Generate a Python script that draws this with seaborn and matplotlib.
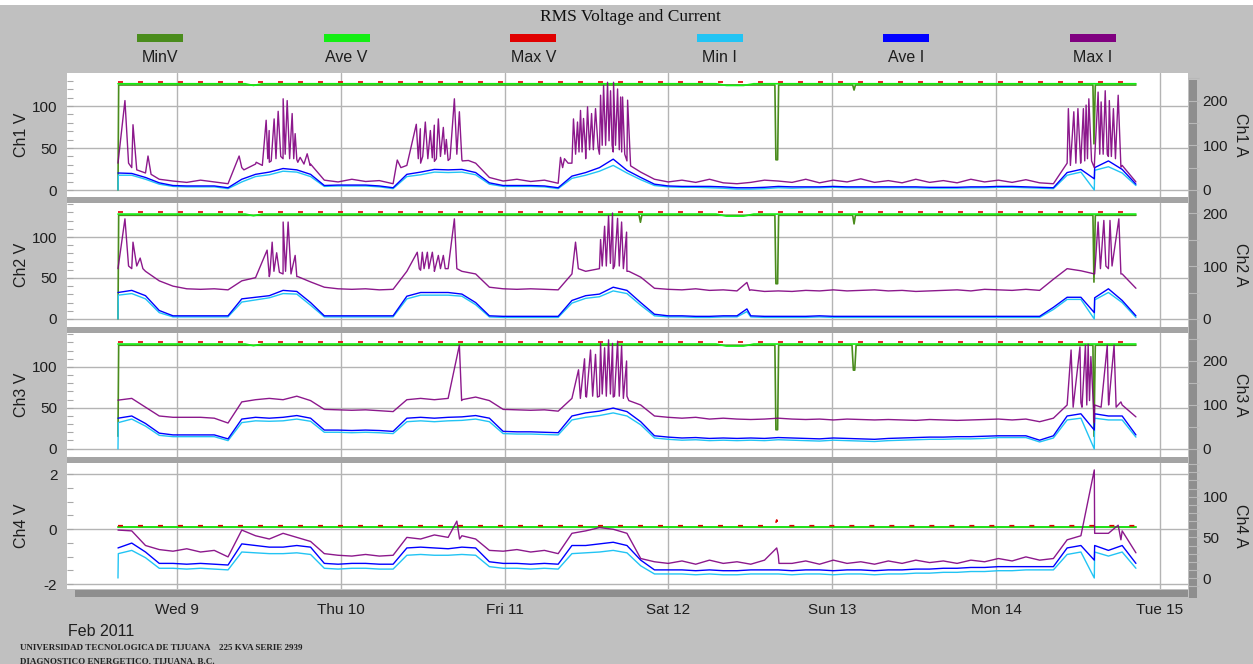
import numpy as np
import pandas as pd
import matplotlib
matplotlib.use('Agg')
import matplotlib.pyplot as plt
import matplotlib.dates as mdates
from matplotlib.patches import Rectangle
from matplotlib.ticker import MultipleLocator, FuncFormatter
import seaborn as sns

sns.set_style('white')
plt.rcParams['font.family'] = ['Liberation Sans', 'DejaVu Sans']
plt.rcParams['axes.unicode_minus'] = False

# --- dados ---
# grade de medição (~2 h) e origem dos pontos extra (horas desde 8 fev 00:00)
t0 = pd.Timestamp('2011-02-08 00:00')
grid = pd.date_range('2011-02-08 15:21', '2011-02-14 20:30', periods=75)

# canal 1 (corrente em A)
ch1_min_i = [0, 33, 24, 13, 8, 7, 7, 7, 3, 18, 30, 34, 42, 40, 30,
             8, 9, 9, 9, 7, 3, 30, 34, 40, 39, 40, 34, 13, 8, 8,
             8, 7, 3, 26, 33, 42, 55, 38, 23, 10, 7, 6, 6, 5, 4,
             2, 2, 3, 5, 4, 5, 5, 6, 5, 5, 5, 5, 5, 5, 4,
             4, 4, 5, 5, 6, 6, 5, 4, 3, 33, 40, 44, 52, 38, 10]
ch1_ave_i = [38, 37, 28, 16, 10, 9, 9, 9, 5, 24, 35, 40, 48, 45, 35,
             10, 11, 11, 11, 9, 5, 35, 40, 46, 45, 46, 39, 16, 10, 10,
             10, 9, 5, 31, 39, 50, 69, 44, 28, 13, 9, 8, 8, 8, 7,
             5, 5, 6, 8, 7, 7, 7, 8, 7, 7, 7, 7, 7, 7, 6,
             6, 6, 7, 7, 8, 8, 7, 6, 5, 39, 46, 50, 65, 46, 13]
ch1_max_i = [60, 50, 38, 24, 20, 17, 22, 18, 14, 50, 58, 62, 70, 68, 58,
             22, 18, 24, 19, 21, 14, 55, 60, 64, 66, 68, 60, 28, 20, 24,
             19, 22, 15, 60, 70, 80, 85, 65, 40, 24, 18, 22, 17, 24, 16,
             14, 17, 22, 20, 17, 24, 16, 22, 18, 25, 17, 21, 16, 24, 17,
             21, 16, 24, 18, 22, 17, 23, 16, 14, 60, 65, 70, 75, 55, 18]
ch1_min_i_add_h = [15.4, 158.4]
ch1_min_i_add = [33, 0]
ch1_ave_i_add_h = [158.4]
ch1_ave_i_add = [25]
ch1_max_i_pk_h = [16.37, 16.9, 17.55, 18.1, 19.75, 20.2,
                  33.1, 33.8, 35.6, 36.5, 37.06, 37.3, 37.5, 37.8, 38.23, 38.5, 38.82, 39.2,
                  39.55, 39.85, 40.14, 40.5, 40.87, 41.1, 41.31, 41.7, 42.04, 42.6, 43.07, 43.5,
                  56.27, 56.8, 59.06, 59.35, 59.65, 60.0, 60.38, 60.75, 61.12, 61.4, 61.7, 62.0,
                  62.29, 62.6, 63.02, 63.25, 63.46, 64.0, 64.64, 65.0, 65.37, 65.8, 66.69,
                  80.19, 80.5, 80.77, 81.3, 82.09, 82.4, 82.68, 82.9, 83.12, 83.35, 83.56, 83.85,
                  84.15, 84.45, 84.74, 85.0, 85.32, 85.7, 86.06, 86.3, 86.5, 86.8, 87.08, 87.3,
                  87.52, 87.75, 87.96, 88.25, 88.55, 88.8, 89.0, 89.15, 89.28, 89.6, 90.02, 90.46,
                  154.6, 154.9, 155.4, 155.7, 156.0, 156.4, 156.8, 157.0, 157.2, 157.4, 157.6,
                  158.0, 158.4, 158.96, 159.2, 159.4, 159.7, 160.0, 160.3, 160.6, 160.9, 161.2,
                  161.5, 161.9, 162.3]
ch1_max_i_pk = [200, 60, 146, 45, 76, 35,
                76, 45, 62, 55, 156, 70, 133, 65, 159, 70, 176, 75,
                204, 80, 200, 70, 171, 70, 126, 62, 73, 58, 81, 55,
                67, 50, 147, 70, 137, 75, 152, 70, 133, 72, 145, 70,
                159, 75, 140, 80, 113, 70, 204, 80, 175, 65, 66,
                73, 50, 70, 60, 159, 80, 152, 85, 178, 85, 160, 90,
                186, 90, 171, 90, 182, 95, 212, 100, 234, 100, 241, 110,
                222, 100, 241, 100, 226, 90, 208, 85, 208, 80, 201, 54,
                182, 55, 175, 60, 182, 60, 182, 65, 190, 70, 204,
                65, 50, 219, 80, 197, 80, 222, 80, 200, 75, 182,
                70, 212, 51]
# canal 1 (tensão em V)
ch1_min_v_h = [15.35, 15.45, 111.6, 111.75, 112.0, 112.15, 123.0, 123.2, 123.4,
               158.2, 158.35, 158.55, 164.5]
ch1_min_v = [0, 125, 125, 36, 36, 125, 125, 119, 125, 125, 55, 125, 125]
ch1_ave_v_h = [15.35, 34.0, 35.2, 36.5, 103.0, 104.5, 107.0, 108.5, 164.5]
ch1_ave_v = [126.5, 126.5, 124.5, 126.5, 126.5, 124.5, 124.5, 126.5, 126.5]
ch1_max_v_h = [15.35, 164.5]
ch1_max_v = [128.5, 128.5]

# canal 2
ch2_min_i = [0, 48, 38, 12, 4, 4, 4, 4, 4, 32, 36, 40, 48, 47, 26,
             4, 4, 4, 4, 4, 4, 38, 45, 45, 45, 43, 27, 4, 3, 3,
             3, 3, 3, 30, 39, 42, 53, 48, 26, 6, 4, 4, 3, 3, 4,
             4, 4, 3, 3, 3, 3, 4, 3, 3, 3, 3, 3, 3, 3, 3,
             3, 3, 3, 3, 3, 3, 3, 3, 18, 37, 37, 36, 50, 31, 3]
ch2_ave_i = [50, 54, 44, 16, 6, 6, 6, 6, 6, 38, 41, 44, 54, 52, 31,
             6, 6, 6, 6, 6, 6, 43, 50, 50, 50, 47, 31, 6, 5, 5,
             5, 5, 5, 35, 44, 47, 60, 54, 31, 9, 6, 6, 5, 5, 6,
             6, 6, 5, 5, 5, 5, 6, 5, 5, 5, 5, 5, 5, 5, 5,
             5, 5, 5, 5, 5, 5, 5, 5, 22, 41, 41, 40, 57, 35, 6]
ch2_max_i = [95, 95, 90, 72, 62, 57, 56, 57, 55, 72, 78, 80, 85, 80, 70,
             60, 57, 56, 57, 55, 56, 90, 92, 90, 95, 90, 85, 60, 57, 56,
             57, 56, 55, 85, 90, 95, 95, 90, 79, 58, 56, 55, 57, 54, 55,
             53, 55, 52, 53, 52, 54, 53, 55, 53, 54, 55, 53, 54, 52, 53,
             54, 55, 53, 56, 55, 54, 56, 54, 75, 95, 91, 85, 95, 85, 58]
ch2_min_i_add_h = [15.4, 107.5, 158.4]
ch2_min_i_add = [45, 14, 0]
ch2_ave_i_add_h = [107.5, 158.4]
ch2_ave_i_add = [19, 12]
ch2_max_i_pk_h = [16.37, 16.9, 17.55, 18.1, 18.6, 19.0,
                  37.2, 37.6, 37.94, 38.2, 38.6, 39.0, 39.55, 39.9, 40.28, 40.7, 41.31, 41.7,
                  59.2, 59.5, 59.94, 60.2, 60.68, 60.9, 61.41, 61.7, 62.29, 62.6, 63.02, 63.3,
                  64.64, 65.0,
                  82.39, 82.8, 86.06, 86.3, 86.65, 86.9, 87.23, 87.5, 87.81, 88.1, 88.55, 88.8,
                  89.14, 89.4, 89.87, 90.2,
                  107.5, 107.9,
                  158.96, 159.3, 159.8, 160.1, 160.7, 161.0, 162.0, 162.3]
ch2_max_i_pk = [189, 100, 145, 100, 115, 95,
                130, 85, 145, 90, 125, 88, 183, 90, 183, 85, 120, 80,
                126, 95, 126, 95, 126, 95, 126, 95, 120, 95, 120, 95,
                189, 95,
                145, 95, 150, 100, 175, 100, 195, 105, 200, 100, 190, 100,
                183, 95, 164, 90,
                69, 54,
                183, 95, 186, 100, 186, 100, 189, 85]
ch2_min_v_h = [15.35, 15.45, 91.7, 91.9, 92.1, 111.6, 111.75, 112.0, 112.15,
               123.0, 123.2, 123.4, 158.2, 158.35, 158.55, 164.5]
ch2_min_v = [0, 126.5, 126.5, 118, 126.5, 126.5, 43, 43, 126.5,
             126.5, 116, 126.5, 126.5, 45, 126.5, 126.5]
ch2_ave_v_h = [15.35, 34.0, 35.2, 36.5, 103.0, 104.5, 107.0, 108.5, 164.5]
ch2_ave_v = [128, 128, 126, 128, 128, 125.5, 125.5, 128, 128]
ch2_max_v_h = [15.35, 164.5]
ch2_max_v = [130, 130]

# canal 3
ch3_min_i = [0, 68, 52, 31, 28, 28, 28, 28, 19, 60, 64, 63, 64, 68, 63,
             38, 38, 37, 38, 37, 35, 62, 64, 62, 64, 65, 68, 62, 35, 34,
             34, 33, 32, 66, 72, 76, 82, 75, 55, 25, 22, 20, 21, 19, 20,
             19, 20, 19, 21, 20, 19, 18, 20, 19, 18, 17, 19, 20, 21, 22,
             22, 23, 23, 24, 26, 26, 26, 16, 25, 66, 70, 70, 66, 66, 27]
ch3_ave_i = [70, 75, 58, 36, 32, 32, 32, 32, 23, 68, 72, 70, 72, 76, 70,
             43, 43, 42, 43, 42, 40, 70, 72, 70, 72, 73, 76, 70, 40, 39,
             39, 38, 37, 75, 82, 86, 93, 85, 62, 30, 27, 25, 26, 24, 25,
             24, 25, 24, 26, 25, 24, 23, 25, 24, 23, 22, 24, 25, 26, 27,
             27, 28, 28, 29, 30, 30, 30, 20, 30, 75, 80, 80, 75, 75, 32]
ch3_max_i = [111, 115, 95, 75, 72, 72, 72, 70, 59, 107, 112, 115, 112, 120, 110,
             90, 89, 88, 89, 87, 85, 112, 115, 112, 115, 112, 118, 110, 90, 89,
             88, 89, 86, 115, 120, 120, 118, 120, 100, 75, 72, 70, 72, 68, 70,
             68, 67, 68, 70, 68, 67, 68, 66, 68, 67, 66, 67, 66, 65, 67,
             66, 65, 66, 67, 68, 66, 68, 62, 70, 100, 105, 100, 110, 100, 73]
ch3_min_i_add_h = [15.4, 158.4]
ch3_min_i_add = [60, 0]
ch3_ave_i_add_h = [158.4]
ch3_ave_i_add = [43]
ch3_max_i_pk_h = [65.37, 65.7,
                  82.83, 83.1, 83.71, 84.0, 84.59, 84.9, 85.32, 85.6, 86.06, 86.3, 86.65, 86.9,
                  87.23, 87.5, 87.81, 88.1, 88.55, 88.8, 89.14, 89.4, 89.87, 90.2,
                  155.0, 155.3, 156.3, 156.6, 157.1, 157.3, 157.5, 157.7, 157.9, 158.4, 159.4,
                  160.3, 160.5, 161.3, 161.6, 162.3]
ch3_max_i_pk = [236, 110,
                180, 115, 205, 118, 225, 120, 215, 118, 240, 125, 230, 120,
                248, 125, 240, 120, 245, 120, 235, 115, 200, 110,
                225, 95, 232, 95, 236, 100, 238, 110, 210, 60, 95,
                236, 100, 236, 95, 107]
ch3_min_v_h = [15.35, 15.45, 111.6, 111.75, 112.0, 112.15, 122.9, 123.1, 123.3, 123.5,
               158.2, 158.35, 158.55, 164.5]
ch3_min_v = [15, 126.5, 126.5, 23, 23, 126.5, 126.5, 96, 96, 126.5,
             126.5, 15, 126.5, 126.5]
ch3_ave_v_h = [15.35, 34.0, 35.2, 36.5, 103.0, 104.5, 107.0, 108.5, 164.5]
ch3_ave_v = [128, 128, 126, 128, 128, 125.5, 125.5, 128, 128]
ch3_max_v_h = [15.35, 164.5]
ch3_max_v = [130, 130]

# canal 4
ch4_min_i = [0, 34, 25, 12, 12, 11, 12, 11, 10, 32, 31, 30, 30, 31, 29,
             12, 11, 12, 12, 11, 11, 28, 29, 28, 28, 29, 28, 14, 12, 12,
             11, 12, 11, 30, 31, 32, 34, 31, 15, 5, 5, 5, 4, 5, 4,
             4, 5, 5, 5, 4, 5, 5, 4, 5, 5, 4, 5, 5, 6, 6,
             7, 7, 8, 8, 9, 9, 10, 10, 10, 29, 32, 32, 27, 32, 12]
ch4_ave_i = [37, 43, 32, 18, 18, 17, 18, 17, 16, 42, 40, 38, 38, 40, 38,
             18, 17, 18, 18, 17, 17, 37, 38, 37, 36, 38, 37, 20, 18, 18,
             17, 18, 17, 40, 40, 42, 44, 40, 22, 10, 10, 10, 9, 10, 9,
             9, 10, 10, 10, 9, 10, 10, 9, 10, 10, 9, 10, 10, 11, 11,
             12, 12, 13, 13, 14, 14, 14, 14, 14, 37, 40, 40, 34, 40, 18]
ch4_max_i = [59, 58, 40, 35, 33, 36, 32, 34, 26, 59, 52, 48, 55, 50, 45,
             30, 28, 27, 29, 27, 28, 50, 48, 53, 50, 52, 48, 34, 33, 35,
             32, 34, 30, 55, 58, 62, 60, 55, 24, 20, 18, 21, 17, 22, 18,
             20, 17, 22, 28, 18, 21, 17, 22, 18, 20, 17, 21, 18, 22, 19,
             21, 18, 22, 20, 24, 21, 26, 22, 24, 47, 52, 55, 55, 58, 31]
ch4_min_i_add_h = [15.4, 158.4]
ch4_min_i_add = [30, 0]
ch4_ave_i_add_h = [158.4]
ch4_ave_i_add = [22]
ch4_max_i_pk_h = [65.0, 65.4, 111.87, 112.2, 158.4, 158.6, 161.9, 162.3]
ch4_max_i_pk = [70, 48, 37, 18, 133, 55, 65, 47]
ch4_min_v_h = [15.35, 164.5]
ch4_min_v = [0.06, 0.06]
ch4_ave_v_h = [15.35, 164.5]
ch4_ave_v = [0.08, 0.08]
ch4_max_v_h = [15.35, 111.6, 111.87, 112.1, 164.5]
ch4_max_v = [0.12, 0.12, 0.33, 0.12, 0.12]

channel_names = ['Ch1', 'Ch2', 'Ch3', 'Ch4']
legend_labels = ['MinV', 'Ave V', 'Max V', 'Min I', 'Ave I', 'Max I']
cores = ['#4a8c1c', '#14ee14', '#e00000', '#22c4f4', '#0000ff', '#800080']

canais = [
    dict(min_i=(ch1_min_i, ch1_min_i_add_h, ch1_min_i_add), ave_i=(ch1_ave_i, ch1_ave_i_add_h, ch1_ave_i_add),
         max_i=(ch1_max_i, ch1_max_i_pk_h, ch1_max_i_pk),
         min_v=(ch1_min_v_h, ch1_min_v), ave_v=(ch1_ave_v_h, ch1_ave_v), max_v=(ch1_max_v_h, ch1_max_v)),
    dict(min_i=(ch2_min_i, ch2_min_i_add_h, ch2_min_i_add), ave_i=(ch2_ave_i, ch2_ave_i_add_h, ch2_ave_i_add),
         max_i=(ch2_max_i, ch2_max_i_pk_h, ch2_max_i_pk),
         min_v=(ch2_min_v_h, ch2_min_v), ave_v=(ch2_ave_v_h, ch2_ave_v), max_v=(ch2_max_v_h, ch2_max_v)),
    dict(min_i=(ch3_min_i, ch3_min_i_add_h, ch3_min_i_add), ave_i=(ch3_ave_i, ch3_ave_i_add_h, ch3_ave_i_add),
         max_i=(ch3_max_i, ch3_max_i_pk_h, ch3_max_i_pk),
         min_v=(ch3_min_v_h, ch3_min_v), ave_v=(ch3_ave_v_h, ch3_ave_v), max_v=(ch3_max_v_h, ch3_max_v)),
    dict(min_i=(ch4_min_i, ch4_min_i_add_h, ch4_min_i_add), ave_i=(ch4_ave_i, ch4_ave_i_add_h, ch4_ave_i_add),
         max_i=(ch4_max_i, ch4_max_i_pk_h, ch4_max_i_pk),
         min_v=(ch4_min_v_h, ch4_min_v), ave_v=(ch4_ave_v_h, ch4_ave_v), max_v=(ch4_max_v_h, ch4_max_v)),
]


def horas(h):
    return (t0 + pd.to_timedelta(np.asarray(h, dtype=float), unit='h')).to_numpy()


def juntar(base, add_h, add):
    t = np.concatenate([grid.to_numpy(), horas(add_h)])
    v = np.concatenate([np.asarray(base, float), np.asarray(add, float)])
    ordem = np.argsort(t, kind='stable')
    return t[ordem], v[ordem]


def linha(ax, t, v, cor, lw=1.0, **kw):
    sns.lineplot(x=t, y=v, ax=ax, color=cor, linewidth=lw,
                 estimator=None, errorbar=None, **kw)


# --- layout (pixels da imagem original) ---
W, H = 1253, 664
fig = plt.figure(figsize=(W / 100, H / 100), dpi=100, facecolor='#c0c0c0')


def fx(px):
    return px / W


def fy(px):
    return 1 - px / H


x_esq, x_dir = 67, 1188
topos = [73, 203, 333, 463]
bases = [197, 327, 457, 589]
lim_v = [(-8.3, 139.3), (-9.8, 141.5), (-10.4, 141.5), (-2.18, 2.4)]
lim_a = [(-15.7, 261.7), (-15.1, 218.9), (-18.2, 263.6), (-13.5, 141.5)]
passo_v = [(50, 10), (50, 10), (50, 10), (2, 0.5)]
passo_a = [(100, 50), (100, 50), (100, 50), (50, 10)]
xlim = horas([7.88, 172.13])
cor_texto = '#1e1e1e'


# faixas decorativas
def faixa(x0, y0, x1, y1, cor):
    fig.add_artist(Rectangle((fx(x0), fy(y1)), fx(x1) - fx(x0), (y1 - y0) / H,
                             transform=fig.transFigure, color=cor, zorder=-1, lw=0))


faixa(0, 0, W, 5, 'white')
for k in range(3):
    faixa(x_esq, bases[k], x_dir, topos[k + 1], '#a4a4a4')
faixa(75, 590, x_dir, 597, '#8e8e8e')
faixa(1189, 80, 1197, 598, '#8e8e8e')


def rotulo_dia(v, pos):
    d = mdates.num2date(v)
    return f'{d:%a} {d.day}'


ax_ref = None
for k, ch in enumerate(canais):
    ax = fig.add_axes([fx(x_esq), fy(bases[k]), fx(x_dir) - fx(x_esq), (bases[k] - topos[k]) / H],
                      sharex=ax_ref)
    if ax_ref is None:
        ax_ref = ax
    ax.set_facecolor('white')
    axa = ax.twinx()

    # tensões (eixo esquerdo)
    linha(ax, horas(ch['min_v'][0]), ch['min_v'][1], cores[0], 1.2)
    linha(ax, horas(ch['ave_v'][0]), ch['ave_v'][1], cores[1], 1.2)
    linha(ax, horas(ch['max_v'][0]), ch['max_v'][1], cores[2], 1.2, linestyle=(0, (3, 9)))

    # correntes (eixo direito)
    t, v = juntar(*ch['min_i'])
    linha(axa, t, v, cores[3], 1.0)
    t, v = juntar(*ch['ave_i'])
    linha(axa, t, v, cores[4], 1.0)
    t, v = juntar(*ch['max_i'])
    linha(axa, t, v, cores[5], 1.0, alpha=0.9)

    ax.set_xlim(xlim)
    ax.set_ylim(lim_v[k])
    axa.set_ylim(lim_a[k])
    ax.set_xlabel('')
    ax.set_ylabel('')
    axa.set_ylabel('')

    ax.yaxis.set_major_locator(MultipleLocator(passo_v[k][0]))
    ax.yaxis.set_minor_locator(MultipleLocator(passo_v[k][1]))
    axa.yaxis.set_major_locator(MultipleLocator(passo_a[k][0]))
    axa.yaxis.set_minor_locator(MultipleLocator(passo_a[k][1]))
    ax.xaxis.set_major_locator(mdates.DayLocator())
    ax.xaxis.set_major_formatter(FuncFormatter(rotulo_dia))

    ax.grid(True, axis='both', which='major', color='#b4b4b4', linewidth=1.0)
    ax.set_axisbelow(True)
    for a in (ax, axa):
        for s in a.spines.values():
            s.set_visible(False)

    ax.tick_params(axis='y', which='both', direction='in', length=4.5, width=0.8,
                   color='#a8a8a8', labelsize=11, labelcolor=cor_texto, pad=7, left=True)
    axa.tick_params(axis='y', which='both', direction='out', length=8, width=0.8,
                    color='#b8b8b8', labelsize=11, labelcolor=cor_texto, pad=2.5, right=True)
    ax.tick_params(axis='x', length=0, labelsize=11, labelcolor=cor_texto, pad=10,
                   labelbottom=(k == 3))

    meio = (topos[k] + bases[k]) / 2
    fig.text(fx(22), fy(meio), f'{channel_names[k]} V', rotation=90, ha='center', va='center',
             fontsize=11.5, color=cor_texto)
    fig.text(fx(1240), fy(meio), f'{channel_names[k]} A', rotation=270, ha='center', va='center',
             fontsize=11.5, color=cor_texto)

# título e legenda
fig.text(fx(630), fy(17), 'RMS Voltage and Current', ha='center', va='center',
         fontsize=12.5, family=['Liberation Serif', 'DejaVu Serif'], color='#101010')
for k, (rot, cor) in enumerate(zip(legend_labels, cores)):
    xc = 160 + 186.6 * k
    faixa(xc - 23, 34, xc + 23, 42, cor)
    fig.text(fx(xc), fy(58), rot, ha='center', va='center', fontsize=11.5, color=cor_texto)

fig.text(fx(68), fy(631), 'Feb 2011', ha='left', va='center', fontsize=11.5, color=cor_texto)
fig.text(fx(20), fy(648), 'UNIVERSIDAD TECNOLOGICA DE TIJUANA    225 KVA SERIE 2939',
         ha='left', va='center', fontsize=6.5, weight='bold',
         family=['Liberation Serif', 'DejaVu Serif'], color='#222222')
fig.text(fx(20), fy(661), 'DIAGNOSTICO ENERGETICO, TIJUANA, B.C.',
         ha='left', va='center', fontsize=6.5, weight='bold',
         family=['Liberation Serif', 'DejaVu Serif'], color='#222222')

fig.savefig('out.png', dpi=100, facecolor=fig.get_facecolor())
